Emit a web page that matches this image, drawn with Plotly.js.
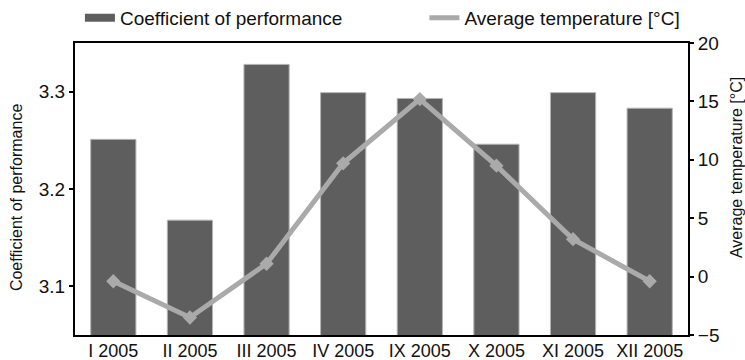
<!DOCTYPE html>
<html><head><meta charset="utf-8">
<script src="https://cdn.plot.ly/plotly-3.0.1.min.js"></script>
<style>html,body{margin:0;padding:0;background:#fff}#chart{width:745px;height:360px}</style>
</head><body><div id="chart"></div>
<script>
const categories = ["I 2005","II 2005","III 2005","IV 2005","IX 2005","X 2005","XI 2005","XII 2005"];
const cop = [3.251, 3.168, 3.328, 3.299, 3.293, 3.246, 3.299, 3.283];
const avgTemp = [-0.4, -3.5, 1.1, 9.7, 15.2, 9.5, 3.2, -0.4];
const leftTicks = [3.1, 3.2, 3.3];
const rightTicks = [-5, 0, 5, 10, 15, 20];
const leftTitle = "Coefficient of performance";
const rightTitle = "Average temperature [°C]";

const fam = "Liberation Sans, Arial, sans-serif";
const font = {family: fam, size: 19, color: "#111"};
const xfont = {family: fam, size: 18, color: "#111"};
const tfont = {family: fam, size: 16, color: "#111"};
const barColor = "#5e5e5e", lineColor = "#aaaaaa";
const traces = [
  {type: "bar", x: categories, y: cop, name: leftTitle, showlegend: false,
   legendgroup: "cop", marker: {color: barColor, line: {color: "#b4b4b4", width: 1}}, yaxis: "y"},
  {type: "scatter", mode: "lines+markers", x: categories, y: avgTemp, name: rightTitle,
   showlegend: false, legendgroup: "temp",
   line: {color: lineColor, width: 5}, marker: {symbol: "diamond", size: 11, color: lineColor}, yaxis: "y2"},
  // legend keys
  {type: "scatter", mode: "lines", x: [null], y: [null], name: leftTitle,
   legendgroup: "cop", legend: "legend", line: {color: barColor, width: 8}, yaxis: "y"},
  {type: "scatter", mode: "lines", x: [null], y: [null], name: rightTitle,
   legendgroup: "temp", legend: "legend2", line: {color: lineColor, width: 5}, yaxis: "y2"}
];
const legendBase = {orientation: "h", xref: "paper", xanchor: "left", yref: "paper", y: 1.086, yanchor: "middle",
                    font: font, bgcolor: "rgba(0,0,0,0)"};
const layout = {
  width: 745, height: 360,
  margin: {l: 75, r: 57, t: 43, b: 25, autoexpand: false},
  paper_bgcolor: "#fff", plot_bgcolor: "#fff",
  font: font,
  bargap: 0.41,
  showlegend: true,
  legend: Object.assign({}, legendBase, {x: 0.008}),
  legend2: Object.assign({}, legendBase, {x: 0.570}),
  xaxis: {type: "category", categoryorder: "array", categoryarray: categories,
          showline: true, linecolor: "#000", linewidth: 2, mirror: true, automargin: false,
          ticks: "", showgrid: false, tickfont: xfont, zeroline: false, ticklabelstandoff: -2},
  yaxis: {range: [3.05, 3.35], tickvals: leftTicks, ticktext: leftTicks.map(v => v.toFixed(1)),
          showline: true, linecolor: "#000", linewidth: 2, ticks: "outside", ticklen: 4, tickwidth: 2,
          tickcolor: "#000", showgrid: false, zeroline: false, tickfont: font, automargin: false},
  yaxis2: {range: [-5, 20], tickvals: rightTicks, overlaying: "y", side: "right",
           showline: true, linecolor: "#000", linewidth: 2, ticks: "outside", ticklen: 4, tickwidth: 2,
           tickcolor: "#000", showgrid: false, zeroline: false, tickfont: font, automargin: false},
  annotations: [
    {text: leftTitle, xref: "paper", yref: "paper", x: -0.0962, y: 0.469, xanchor: "center", yanchor: "middle",
     textangle: -90, showarrow: false, font: tfont},
    {text: rightTitle, xref: "paper", yref: "paper", x: 1.0783, y: 0.575, xanchor: "center", yanchor: "middle",
     textangle: -90, showarrow: false, font: tfont}
  ]
};
Plotly.newPlot("chart", traces, layout, {displayModeBar: false, staticPlot: true});
</script></body></html>
